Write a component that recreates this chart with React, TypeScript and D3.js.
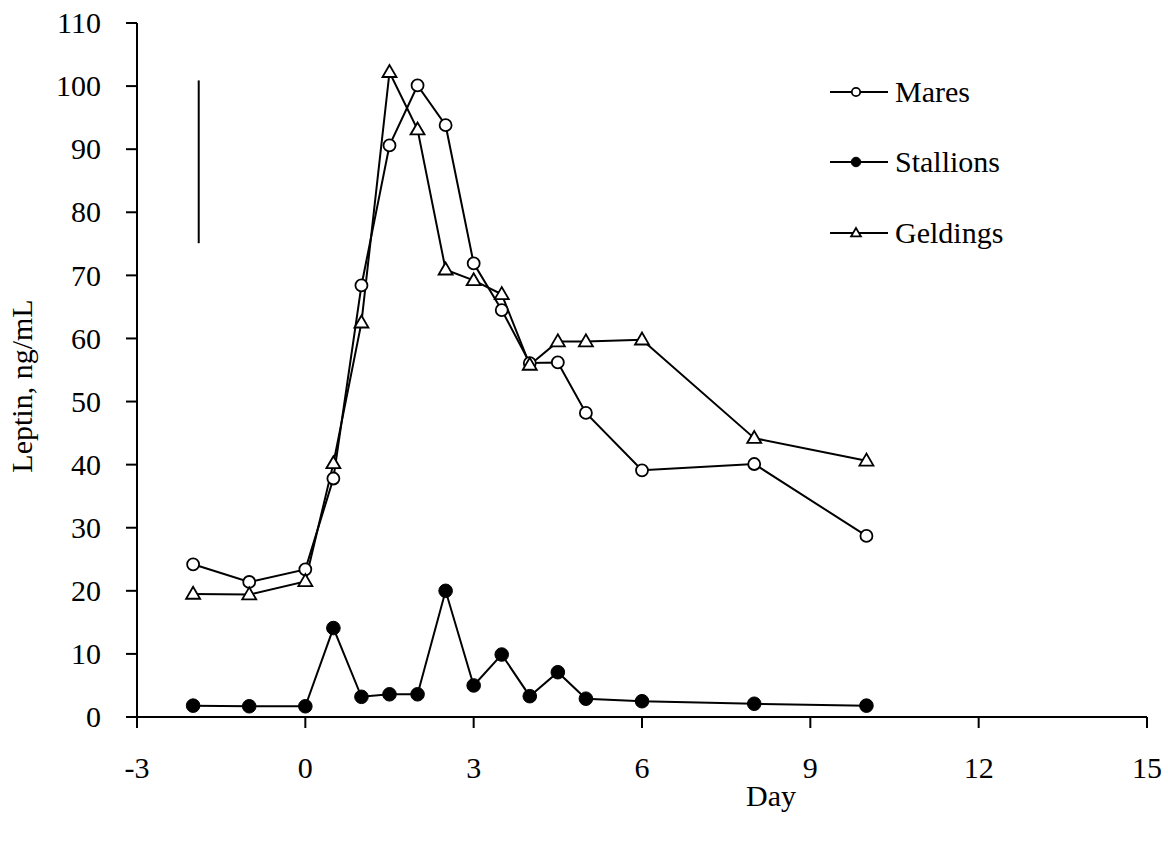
import React from "react";
import * as d3 from "d3";

const days = [-2, -1, 0, 0.5, 1, 1.5, 2, 2.5, 3, 3.5, 4, 4.5, 5, 6, 8, 10];
const mares = [24.2, 21.4, 23.4, 37.8, 68.4, 90.6, 100.1, 93.8, 71.9, 64.5, 56.1, 56.2, 48.2, 39.1, 40.1, 28.7];
const stallions = [1.8, 1.7, 1.7, 14.1, 3.2, 3.6, 3.6, 20.0, 5.0, 9.9, 3.3, 7.1, 2.9, 2.5, 2.1, 1.8];
const geldings = [19.5, 19.4, 21.5, 40.2, 62.5, 102.2, 93.1, 70.9, 69.2, 67.0, 55.8, 59.5, 59.5, 59.8, 44.2, 40.6];
const xTicks = [-3, 0, 3, 6, 9, 12, 15];
const yTicks = [0, 10, 20, 30, 40, 50, 60, 70, 80, 90, 100, 110];
const seriesNames = ["Mares", "Stallions", "Geldings"];
const errorBar = { x: -1.9, lo: 75.1, hi: 100.9 };

const FONT = "'Liberation Serif', 'Times New Roman', serif";

function Marker({ kind, x, y, small }: { kind: string; x: number; y: number; small?: boolean }) {
  const s = small ? 0.7 : 1;
  if (kind === "Mares") {
    return <circle cx={x} cy={y} r={6 * s} fill="white" stroke="black" strokeWidth={1.8} />;
  }
  if (kind === "Stallions") {
    return <circle cx={x} cy={y} r={6.8 * s} fill="black" stroke="black" strokeWidth={1} />;
  }
  const h = 12 * s;
  const w = 14 * s;
  const pts = `${x},${y - h * 0.6} ${x - w / 2},${y + h * 0.4} ${x + w / 2},${y + h * 0.4}`;
  return <polygon points={pts} fill="white" stroke="black" strokeWidth={1.8} strokeLinejoin="miter" />;
}

export default function App() {
  const x = d3.scaleLinear().domain([-3, 15]).range([137, 1147]);
  const y = d3.scaleLinear().domain([0, 110]).range([717, 23]);
  const series: { name: string; values: number[] }[] = [
    { name: "Mares", values: mares },
    { name: "Stallions", values: stallions },
    { name: "Geldings", values: geldings },
  ];
  const line = d3
    .line<[number, number]>()
    .x((d) => x(d[0]))
    .y((d) => y(d[1]));
  const legendY = [92, 162, 233];

  return (
    <svg
      width={1168}
      height={844}
      style={{ position: "absolute", left: 0, top: 0, background: "white" }}
      fontFamily={FONT}
    >
      <rect width={1168} height={844} fill="white" />
      <line x1={x(-3)} x2={x(15)} y1={y(0)} y2={y(0)} stroke="black" strokeWidth={2} />
      <line x1={x(-3)} x2={x(-3)} y1={y(0)} y2={y(110)} stroke="black" strokeWidth={2} />
      {yTicks.map((t) => (
        <g key={"y" + t}>
          <line x1={x(-3) - 11} x2={x(-3)} y1={y(t)} y2={y(t)} stroke="black" strokeWidth={2} />
          <text x={x(-3) - 36} y={y(t)} dy="0.34em" textAnchor="end" fontSize={30}>
            {t}
          </text>
        </g>
      ))}
      {xTicks.map((t) => (
        <g key={"x" + t}>
          <line x1={x(t)} x2={x(t)} y1={y(0)} y2={y(0) + 11} stroke="black" strokeWidth={2} />
          <text x={x(t)} y={778} textAnchor="middle" fontSize={30}>
            {t}
          </text>
        </g>
      ))}
      <text x={771} y={806} textAnchor="middle" fontSize={30}>
        Day
      </text>
      <text transform="translate(32,386) rotate(-90)" textAnchor="middle" fontSize={30}>
        Leptin, ng/mL
      </text>
      <line
        x1={x(errorBar.x)}
        x2={x(errorBar.x)}
        y1={y(errorBar.lo)}
        y2={y(errorBar.hi)}
        stroke="black"
        strokeWidth={2}
      />
      {series.map((s) => (
        <path
          key={s.name + "l"}
          d={line(days.map((d, i) => [d, s.values[i]] as [number, number])) || ""}
          fill="none"
          stroke="black"
          strokeWidth={2}
        />
      ))}
      {series.map((s) => (
        <g key={s.name + "m"}>
          {days.map((d, i) => (
            <Marker key={i} kind={s.name} x={x(d)} y={y(s.values[i])} />
          ))}
        </g>
      ))}
      {seriesNames.map((n, i) => (
        <g key={"lg" + n}>
          <line x1={830} x2={888} y1={legendY[i]} y2={legendY[i]} stroke="black" strokeWidth={2} />
          <Marker kind={n} x={856} y={legendY[i]} small />
          <text x={895} y={legendY[i]} dy="0.34em" fontSize={30}>
            {n}
          </text>
        </g>
      ))}
    </svg>
  );
}
